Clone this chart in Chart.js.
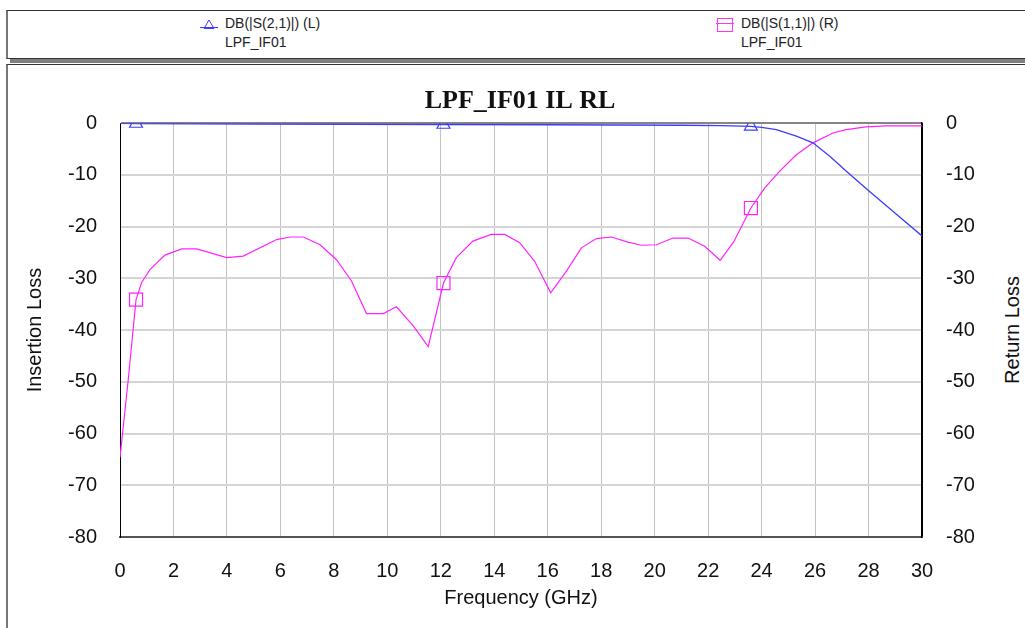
<!DOCTYPE html>
<html>
<head>
<meta charset="utf-8">
<script src="https://cdn.jsdelivr.net/npm/chart.js"></script>
<style>
    body {
        margin: 0;
        width: 1025px;
        height: 628px;
        overflow: hidden;
        position: relative;
        background: #fff;
        font-family: "Liberation Sans", Arial, sans-serif;
    }
    #legendBox {
        position: absolute;
        left: 6px;
        top: 10px;
        width: 1040px;
        height: 47px;
        border: 1px solid #333;
        border-left: 2px solid #777;
    }
    #legendShadow {
        position: absolute;
        left: 10px;
        top: 59px;
        width: 1040px;
        height: 4px;
        background: #7f7f7f;
    }
    #panel {
        position: absolute;
        left: 6px;
        top: 64px;
        width: 1040px;
        height: 600px;
        border-top: 1px solid #333;
        border-left: 2px solid #777;
    }
    .entry {
        position: absolute;
        font-size: 14px;
        line-height: 18px;
        color: #222;
        white-space: nowrap;
    }
    .sym {
        position: absolute;
    }
    #rightTitle {
        position: absolute;
        left: 1012px;
        top: 330px;
        transform: translate(-50%, -50%) rotate(-90deg);
        font-size: 20px;
        color: #111;
        white-space: nowrap;
    }
    #chartBox {
        position: absolute;
        left: 0;
        top: 0;
        width: 1025px;
        height: 628px;
    }
</style>
</head>
<body>
<div id="legendBox"></div>
<div id="legendShadow"></div>
<div id="panel"></div>

<svg class="sym" style="left:199px;top:18px" width="20" height="12">
    <line x1="1" y1="9.5" x2="19" y2="9.5" stroke="#3c3cff" stroke-width="1"/>
    <polygon points="10,2 5,10.5 15,10.5" fill="none" stroke="#3c3cff" stroke-width="1"/>
</svg>
<div class="entry" style="left:225px;top:14px">DB(|S(2,1)|) (L)</div>
<div class="entry" style="left:225px;top:33px">LPF_IF01</div>

<svg class="sym" style="left:715px;top:17px" width="20" height="16">
    <line x1="1" y1="6.5" x2="19" y2="6.5" stroke="#ff33ff" stroke-width="1"/>
    <rect x="2.5" y="1.5" width="15" height="13" fill="none" stroke="#ff33ff" stroke-width="1"/>
</svg>
<div class="entry" style="left:741px;top:14px">DB(|S(1,1)|) (R)</div>
<div class="entry" style="left:741px;top:33px">LPF_IF01</div>

<div id="rightTitle">Return Loss</div>

<div id="chartBox"><canvas id="lpfChart"></canvas></div>

<script>
// Insertion loss DB(|S(2,1)|), left axis
const ilFreq = [0, 0.6, 5, 12.1, 16, 21, 22.5, 23.6, 24.0, 24.55, 25.3, 25.92, 26.55, 27.17, 28.04, 28.91, 30];
const ilDb = [-0.05, -0.06, -0.15, -0.25, -0.3, -0.4, -0.45, -0.6, -0.8, -1.25, -2.5, -3.8, -6.4, -9.3, -13.2, -17.0, -21.8];

// Return loss DB(|S(1,1)|), right axis
const rlFreq = [0, 0.31, 0.6, 0.81, 1.12, 1.68, 2.31, 2.87, 3.99, 4.61, 5.86, 6.36, 6.86, 7.48, 8.1, 8.66,
    9.22, 9.85, 10.34, 10.97, 11.53, 12.1, 12.58, 13.2, 13.89, 14.39, 14.95, 15.51, 16.11, 16.7, 17.26,
    17.82, 18.38, 19.0, 19.5, 20.06, 20.69, 21.25, 21.87, 22.45, 22.95, 23.6, 24.12, 24.67, 25.3, 25.92,
    26.67, 27.17, 27.9, 28.65, 30];
const rlDb = [-64.6, -49.5, -34.1, -30.8, -28.3, -25.5, -24.3, -24.3, -26.0, -25.7, -22.5, -22.0, -22.0, -23.5, -26.4, -30.5,
    -36.8, -36.8, -35.5, -39.2, -43.2, -30.9, -26.0, -22.8, -21.5, -21.5, -23.1, -26.7, -32.8, -28.6, -24.1,
    -22.3, -22.0, -23.0, -23.6, -23.5, -22.2, -22.2, -23.8, -26.5, -23.0, -16.4, -12.5, -9.3, -6.1, -3.8,
    -1.9, -1.25, -0.7, -0.5, -0.5];

// frequencies carrying a marker symbol
const markerFreq = [0.6, 12.1, 23.6];

const freqRange = [0, 30];
const dbRange = [-80, 0];

const ilColor = '#3c3cff';
const rlColor = '#ff22ff';
const tickFont = { family: 'Liberation Sans', size: 20 };
const titleFont = { family: 'Liberation Sans', size: 20 };

function toPoints(xs, ys) {
    return xs.map((x, i) => ({ x: x, y: ys[i] }));
}

function markerRadius(r) {
    return (c) => (c.raw && markerFreq.includes(c.raw.x)) ? r : 0;
}

window.addEventListener('load', () => {
    var ctx = document.getElementById('lpfChart');

    new Chart(ctx, {
        type: 'line',
        data: {
            datasets: [{
                label: 'DB(|S(2,1)|) (L)',
                data: toPoints(ilFreq, ilDb),
                yAxisID: 'y',
                borderColor: ilColor,
                borderWidth: 1.3,
                tension: 0,
                pointStyle: 'triangle',
                pointRadius: markerRadius(7.5),
                pointBorderColor: ilColor,
                pointBackgroundColor: 'transparent',
                pointBorderWidth: 1.2
            }, {
                label: 'DB(|S(1,1)|) (R)',
                data: toPoints(rlFreq, rlDb),
                yAxisID: 'y2',
                borderColor: rlColor,
                borderWidth: 1.2,
                tension: 0,
                pointStyle: 'rect',
                pointRadius: markerRadius(9.2),
                pointBorderColor: rlColor,
                pointBackgroundColor: 'transparent',
                pointBorderWidth: 1.2
            }]
        },
        options: {
            responsive: true,
            maintainAspectRatio: false,
            animation: false,
            devicePixelRatio: 1,
            layout: {
                padding: { left: 15, right: 0, top: 64, bottom: 0 }
            },
            plugins: {
                legend: { display: false },
                tooltip: { enabled: false },
                title: {
                    display: true,
                    text: 'LPF_IF01 IL RL',
                    color: '#111',
                    font: { family: 'Liberation Serif', size: 26, weight: 'bold' },
                    padding: { top: 22, bottom: 6 }
                }
            },
            scales: {
                x: {
                    type: 'linear',
                    min: freqRange[0],
                    max: freqRange[1],
                    ticks: {
                        stepSize: 2,
                        color: '#111',
                        font: tickFont,
                        padding: 22,
                        maxRotation: 0
                    },
                    grid: {
                        drawTicks: false,
                        color: (c) => (c.tick && (c.tick.value === 0 || c.tick.value === 30)) ? '#000' : '#c2c2c2',
                        lineWidth: 1
                    },
                    border: { color: '#555', width: 2 },
                    title: {
                        display: true,
                        text: 'Frequency (GHz)',
                        color: '#111',
                        font: titleFont,
                        padding: { top: 0, bottom: 18 }
                    },
                    afterFit: (s) => { s.height = 91; }
                },
                y: {
                    position: 'left',
                    min: dbRange[0],
                    max: dbRange[1],
                    ticks: {
                        stepSize: 10,
                        color: '#111',
                        font: tickFont,
                        padding: 23
                    },
                    grid: {
                        drawTicks: false,
                        color: (c) => {
                            if (!c.tick) return '#d4d4d4';
                            if (c.tick.value === 0) return '#858585';
                            if (c.tick.value === -80) return '#555';
                            return '#d4d4d4';
                        },
                        lineWidth: 2
                    },
                    border: { color: '#000', width: 1 },
                    title: {
                        display: true,
                        text: 'Insertion Loss',
                        color: '#111',
                        font: titleFont,
                        padding: { top: 8, bottom: 0 }
                    },
                    afterFit: (s) => { s.width = 105; }
                },
                y2: {
                    position: 'right',
                    min: dbRange[0],
                    max: dbRange[1],
                    ticks: {
                        stepSize: 10,
                        color: '#111',
                        font: tickFont,
                        padding: 24
                    },
                    grid: { display: false, drawTicks: false },
                    border: { color: '#000', width: 1.5 },
                    afterFit: (s) => { s.width = 103; }
                }
            }
        }
    })
});
</script>
</body>
</html>
